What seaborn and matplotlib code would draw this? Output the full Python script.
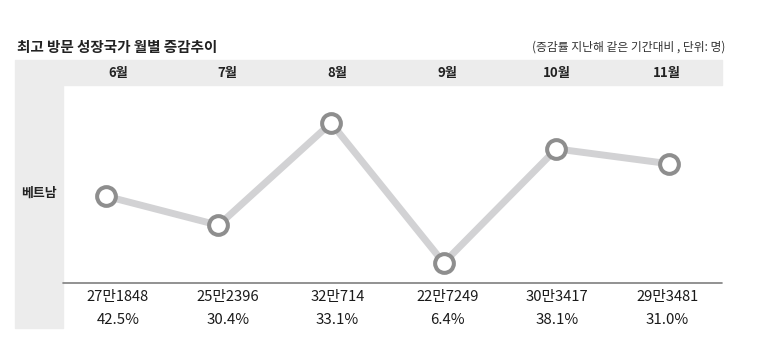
import matplotlib
matplotlib.use("Agg")
import matplotlib.pyplot as plt
import seaborn as sns
import pandas as pd
from matplotlib.patches import Rectangle

# ========= DATOS =========
months = ["6월", "7월", "8월", "9월", "10월", "11월"]
visitors = [271848, 252396, 320714, 227249, 303417, 293481]
visitor_labels = ["27만1848", "25만2396", "32만714", "22만7249", "30만3417", "29만3481"]
growth_labels = ["42.5%", "30.4%", "33.1%", "6.4%", "38.1%", "31.0%"]
country = "베트남"
title = "최고 방문 성장국가 월별 증감추이"
note = "(증감률 지난해 같은 기간대비 , 단위: 명)"

df = pd.DataFrame({"idx": range(len(months)), "visitors": visitors})

sns.set_theme(style="white")
plt.rcParams["font.family"] = ["Noto Sans CJK KR", "DejaVu Sans"]

W, H = 757, 352
fig = plt.figure(figsize=(W / 100, H / 100), dpi=100)

def fx(px):
    return px / W

def fy(py):
    return 1 - py / H

# gray header band and left column
fig.patches.append(Rectangle((fx(63), fy(85)), fx(722) - fx(63), fy(60) - fy(85),
                             transform=fig.transFigure, color="#ececec", zorder=0))
fig.patches.append(Rectangle((fx(15), fy(328)), fx(63) - fx(15), fy(60) - fy(328),
                             transform=fig.transFigure, color="#ececec", zorder=0))

# plot area
ax = fig.add_axes([fx(63), fy(283), fx(722) - fx(63), fy(85) - fy(283)])
sns.lineplot(data=df, x="idx", y="visitors", ax=ax, color="#d2d2d4", linewidth=5,
             marker="o", markersize=13.5, markerfacecolor="white",
             markeredgecolor="#8e8e8e", markeredgewidth=2.9, zorder=3)
ax.set_xlim(-0.38, 5.47)
ax.set_ylim(213800, 346100)
ax.set_xticks([])
ax.set_yticks([])
ax.set_xlabel("")
ax.set_ylabel("")
for s in ax.spines.values():
    s.set_visible(False)
ax.set_facecolor("none")

# separator line
fig.add_artist(plt.Line2D([fx(63), fx(722)], [fy(283), fy(283)], transform=fig.transFigure,
                          color="#7f7f7f", linewidth=1.2))

# column texts
n = len(months)
for i in range(n):
    cx = fx(63) + (fx(722) - fx(63)) * (i + 0.5) / n
    fig.text(cx, fy(73), months[i], ha="center", va="center", fontsize=9.5,
             fontweight="bold", color="#222222")
    fig.text(cx, fy(297), visitor_labels[i], ha="center", va="center", fontsize=10.6,
             color="#1a1a1a")
    fig.text(cx, fy(320), growth_labels[i], ha="center", va="center", fontsize=10.8,
             color="#1a1a1a")

fig.text(fx(39), fy(193), country, ha="center", va="center", fontsize=9.3,
         fontweight="bold", color="#222222")
fig.text(fx(17), fy(47), title, ha="left", va="center", fontsize=10.5,
         fontweight="bold", color="#222222")
fig.text(fx(725), fy(47), note, ha="right", va="center", fontsize=8.5, color="#333333")

plt.savefig("out.png", dpi=100)
plt.close()
